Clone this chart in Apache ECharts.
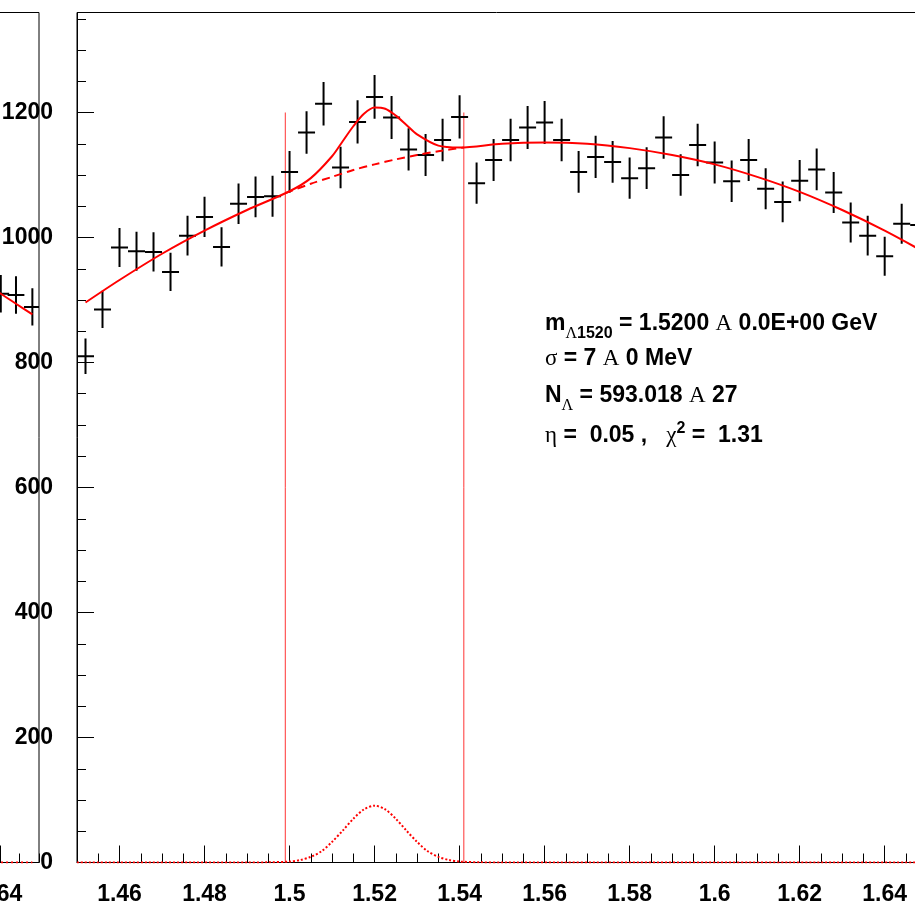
<!DOCTYPE html>
<html><head><meta charset="utf-8">
<script src="https://cdn.jsdelivr.net/npm/echarts@6.0.0/dist/echarts.min.js"></script>
<style>html,body{margin:0;padding:0;background:#fff;overflow:hidden}#c{width:915px;height:905px}</style>
</head><body><div id="c"></div>
<script>
// ---------------- data ----------------
const binCenters = [1.452,1.456,1.460,1.464,1.468,1.472,1.476,1.480,1.484,1.488,1.492,1.496,1.500,1.504,1.508,1.512,1.516,1.520,1.524,1.528,1.532,1.536,1.540,1.544,1.548,1.552,1.556,1.560,1.564,1.568,1.572,1.576,1.580,1.584,1.588,1.592,1.596,1.600,1.604,1.608,1.612,1.616,1.620,1.624,1.628,1.632,1.636,1.640,1.644,1.648];
const counts = [810,885,984,978,977,945,1003,1033,985,1054,1065,1066,1105,1168,1214,1112,1185,1225,1192,1141,1132,1156,1193,1087,1124,1156,1176,1184,1156,1105,1129,1121,1095,1111,1160,1100,1148,1120,1090,1124,1078,1057,1091,1109,1072,1024,1003,970,1022,1020];
const binHalfWidth = 0.002;

// total fit (background + signal)
const fitX = [1.452,1.46,1.47,1.48,1.49,1.5,1.505,1.51,1.5125,1.515,1.5175,1.52,1.5225,1.525,1.5275,1.53,1.535,1.54,1.55,1.56,1.57,1.58,1.59,1.6,1.61,1.62,1.63,1.64,1.65];
const fitY = [896,932,974,1011,1044,1074,1095,1130,1154,1178,1198,1208,1206,1195,1180,1165,1147,1144,1150,1152,1150,1143,1132,1117,1097,1073,1044,1011,974];
// background only (dashed) inside the signal window
const bgX = [1.499,1.505,1.51,1.515,1.52,1.525,1.53,1.535,1.541];
const bgY = [1071,1086,1097,1108,1117,1125,1132,1138,1144];
// signal gaussian (dotted)
const sigX = [1.45,1.49,1.495,1.5,1.5025,1.505,1.5075,1.51,1.5125,1.515,1.5175,1.52,1.5225,1.525,1.5275,1.53,1.5325,1.535,1.5375,1.54,1.545,1.55,1.65];
const sigY = [0,0,0.3,1.5,4,9,18,33,51,70,85,91,85,70,51,33,18,9,4,1.5,0.3,0,0];
// signal window lines
const windowX = [1.499, 1.541];
const windowTop = 1200;

// neighbouring (left) pad, only its right edge is visible
const leftX = [1.6402, 1.6441, 1.6483];
const leftCounts = [910, 908, 889];
const leftHalfWidth = 0.00215;
const leftFitX = [1.636, 1.6402, 1.6441, 1.6483];
const leftFitY = [926, 910, 894, 877];
const leftSigX = [1.63, 1.6483];
const leftSigY = [0, 0];

// ticks
const xMajorTicks = [1.46,1.48,1.50,1.52,1.54,1.56,1.58,1.60,1.62,1.64];
const leftXMajorTicks = [1.64];
const yMajorTicks = [0,200,400,600,800,1000,1200];
const xRange = [1.45, 1.65];
const yRange = [0, 1360];

// ---------------- chart ----------------
const FONT = 'Liberation Sans';
const SERIF = 'Liberation Serif';
const chart = echarts.init(document.getElementById('c'), null, {renderer:'canvas'});

function crossItem(hw) {
  return function (params, api) {
    const x = api.value(0), y = api.value(1), e = Math.sqrt(y);
    const c = api.coord([x, y]);
    const l = api.coord([x - hw, y]), r = api.coord([x + hw, y]);
    const t = api.coord([x, y + e]), b = api.coord([x, y - e]);
    return {type:'group', children:[
      {type:'line', shape:{x1:l[0], y1:c[1], x2:r[0], y2:c[1]}, style:{stroke:'#000', lineWidth:2}},
      {type:'line', shape:{x1:c[0], y1:t[1], x2:c[0], y2:b[1]}, style:{stroke:'#000', lineWidth:2}}
    ]};
  };
}
const zip = (a, b) => a.map((v, i) => [v, b[i]]);
const fmt = v => String(+(+v).toFixed(3));

const labelStyle = {fontFamily: FONT, fontWeight:'bold', fontSize:23, color:'#000'};
function majorX(grid, ticks) {
  return {gridIndex:grid, type:'value', min:xRange[0], max:xRange[1], position:'bottom',
    axisLine:{show:true, lineStyle:{color:'#000', width:1}},
    axisTick:{show:true, inside:true, length:17, customValues:ticks, lineStyle:{color:'#000', width:1}},
    axisLabel:Object.assign({show:true, margin:21, customValues:ticks, formatter:fmt}, labelStyle),
    splitLine:{show:false}};
}
function minorX(grid) {
  return {gridIndex:grid, type:'value', min:xRange[0], max:xRange[1], interval:0.005, position:'bottom',
    axisLine:{show:false}, axisTick:{show:true, inside:true, length:9, lineStyle:{color:'#000', width:1}},
    axisLabel:{show:false}, splitLine:{show:false}};
}
function majorY(grid, showLabels) {
  return {gridIndex:grid, type:'value', min:yRange[0], max:yRange[1], position:'left',
    axisLine:{show:true, lineStyle:{color:'#000', width:1}},
    axisTick:{show:true, inside:true, length:17, customValues:yMajorTicks, lineStyle:{color:'#000', width:1}},
    axisLabel:Object.assign({show:showLabels, margin:24, customValues:yMajorTicks, formatter:fmt}, labelStyle),
    splitLine:{show:false}};
}
function minorY(grid) {
  return {gridIndex:grid, type:'value', min:yRange[0], max:yRange[1], interval:50, position:'left',
    axisLine:{show:false}, axisTick:{show:true, inside:true, length:9, lineStyle:{color:'#000', width:1}},
    axisLabel:{show:false}, splitLine:{show:false}};
}

// text block, runs placed by measuring
const meas = document.createElement('canvas').getContext('2d');
const B = `bold 23px "${FONT}"`, Bs = `bold 16px "${FONT}"`, S = `23px "${SERIF}"`, Ss = `16px "${SERIF}"`;
const textLines = [
  {x:545, base:332, runs:[['m',B,0],['\u039B',Ss,7],['1520',Bs,7],[' = 1.5200 ',B,0],['A',S,0],[' 0.0E+00 GeV',B,0]]},
  {x:545, base:367, runs:[['\u03C3',S,0],[' = 7 ',B,0],['A',S,0],[' 0 MeV',B,0]]},
  {x:545, base:404, runs:[['N',B,0],['\u039B',Ss,7],[' = 593.018 ',B,0],['A',S,0],[' 27',B,0]]},
  {x:545, base:444, runs:[['\u03B7',S,0],[' =  0.05 ,   ',B,0],['\u03C7',S,0],['2',Bs,-10],[' =  1.31',B,0]]}
];
const graphics = [];
textLines.forEach(ln => {
  let x = ln.x;
  ln.runs.forEach(([t, f, dy]) => {
    meas.font = f;
    const size = parseFloat(f.match(/(\d+)px/)[1]);
    graphics.push({type:'text', x:x, y:ln.base + dy - 0.35*size, silent:true,
      style:{text:t, font:f, fill:'#000', align:'left', verticalAlign:'middle', textAlign:'left', textVerticalAlign:'middle'}});
    x += meas.measureText(t).width;
  });
});

const option = {
  animation:false,
  backgroundColor:'#fff',
  grid:[
    {left:-741, right:876, top:12.5, bottom:42.5, show:true, borderColor:'#000', borderWidth:1, backgroundColor:'transparent', containLabel:false, outerBoundsMode:'none'},
    {left:77, right:-12.2, top:12.5, bottom:42.5, show:true, borderColor:'#000', borderWidth:1, backgroundColor:'transparent', containLabel:false, outerBoundsMode:'none'}
  ],
  xAxis:[majorX(0, leftXMajorTicks), minorX(0), majorX(1, xMajorTicks), minorX(1)],
  yAxis:[majorY(0, false), minorY(0), majorY(1, true), minorY(1)],
  graphic:graphics,
  series:[
    // left pad
    {type:'custom', xAxisIndex:0, yAxisIndex:0, clip:true, silent:true, renderItem:crossItem(leftHalfWidth), data:zip(leftX, leftCounts), z:3},
    {type:'line', xAxisIndex:0, yAxisIndex:0, clip:true, silent:true, showSymbol:false, smooth:0.3, data:zip(leftFitX, leftFitY), lineStyle:{color:'#ff0000', width:2}, z:4},
    {type:'line', xAxisIndex:0, yAxisIndex:0, clip:true, silent:true, showSymbol:false, data:zip(leftSigX, leftSigY), lineStyle:{color:'#ff0000', width:2, type:[2,3]}, z:4},
    // main pad
    {type:'custom', xAxisIndex:2, yAxisIndex:2, clip:true, silent:true, renderItem:crossItem(binHalfWidth), data:zip(binCenters, counts), z:3},
    {type:'line', xAxisIndex:2, yAxisIndex:2, clip:true, silent:true, showSymbol:false, data:[[windowX[0],0],[windowX[0],windowTop]], lineStyle:{color:'rgba(255,0,0,0.8)', width:1}, z:2},
    {type:'line', xAxisIndex:2, yAxisIndex:2, clip:true, silent:true, showSymbol:false, data:[[windowX[1],0],[windowX[1],windowTop]], lineStyle:{color:'rgba(255,0,0,0.8)', width:1}, z:2},
    {type:'line', xAxisIndex:2, yAxisIndex:2, clip:true, silent:true, showSymbol:false, smooth:0.3, data:zip(bgX, bgY), lineStyle:{color:'#ff0000', width:2, type:[8,5]}, z:4},
    {type:'line', xAxisIndex:2, yAxisIndex:2, clip:true, silent:true, showSymbol:false, smooth:0.3, data:zip(fitX, fitY), lineStyle:{color:'#ff0000', width:2}, z:5},
    {type:'line', xAxisIndex:2, yAxisIndex:2, clip:true, silent:true, showSymbol:false, smooth:0.3, data:zip(sigX, sigY), lineStyle:{color:'#ff0000', width:2, type:[2,2]}, z:4}
  ]
};
chart.setOption(option);
</script>
</body></html>
